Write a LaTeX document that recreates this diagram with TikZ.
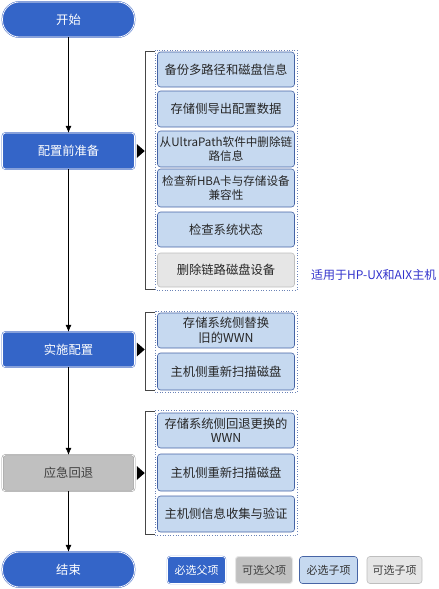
\documentclass[tikz,border=0pt]{standalone}
\usepackage{fontspec}
\setmainfont{Noto Sans CJK SC}
\usetikzlibrary{arrows.meta}
\definecolor{pblue}{RGB}{52,101,200}
\definecolor{pborder}{RGB}{70,110,200}
\definecolor{cfill}{RGB}{198,217,240}
\definecolor{cborder}{RGB}{70,100,165}
\definecolor{gpfill}{RGB}{192,192,192}
\definecolor{gpborder}{RGB}{150,150,150}
\definecolor{gcfill}{RGB}{230,230,230}
\definecolor{gcborder}{RGB}{190,190,190}
\definecolor{notec}{RGB}{51,51,204}
\definecolor{brk}{RGB}{70,70,70}
\begin{document}
\begin{tikzpicture}[x=1pt,y=-1pt,
  txt/.style={font=\fontsize{12.3}{14.5}\selectfont, align=center, inner sep=0pt},
  tight/.style={font=\fontsize{11.6}{14.5}\selectfont},
  parent/.style={txt, rectangle, rounded corners=3pt, fill=pblue, draw=pborder, double=white, double distance=0.7pt, line width=0.5pt, text=white, minimum width=132pt, minimum height=35pt},
  gparent/.style={parent, fill=gpfill, draw=gpborder, text=black!75},
  term/.style={parent, rounded corners=17pt},
  child/.style={txt, rectangle, rounded corners=3pt, fill=cfill, draw=cborder, line width=0.6pt, text=black!85, minimum width=137pt, minimum height=35pt},
  gchild/.style={child, fill=gcfill, draw=gcborder},
  group/.style={draw=cborder!80, dotted, line width=0.6pt},
  flow/.style={draw=black, line width=0.5pt, -{Latex[length=7pt,width=6pt]}},
  legend/.style={font=\fontsize{11}{13}\selectfont, inner sep=0pt, minimum height=27pt, rounded corners=3pt}
]
\useasboundingbox (0,0) rectangle (439,589);

% parents
\node[term] (start) at (68.5,19.5) {开始};
\node[parent, minimum height=36pt] (p1) at (68.5,151) {配置前准备};
\node[parent] (p2) at (68.5,349.5) {实施配置};
\node[gparent, minimum height=36pt] (p3) at (68.5,473) {应急回退};
\node[term] (end) at (68.5,569.5) {结束};

\draw[flow] (start) -- (p1);
\draw[flow] (p1) -- (p2);
\draw[flow] (p2) -- (p3);
\draw[flow] (p3) -- (end);

% triangles
\foreach \p in {p1,p2,p3}{
  \fill[black] ([xshift=2pt,yshift=-7pt]\p.east) -- ([xshift=2pt,yshift=7pt]\p.east) -- ([xshift=10pt]\p.east) -- cycle;
}

% group 1
\draw[group] (155,50) rectangle (297,290);
\draw[brk, line width=0.8pt] (155,51) -- (145,51) -- (145,289) -- (155,289);
\node[child] (c11) at (226,69.5) {备份多路径和磁盘信息};
\node[child, minimum height=36pt] (c12) at (226,109) {存储侧导出配置数据};
\node[child, tight, minimum height=36pt] (c13) at (226,149) {从UltraPath软件中删除链\\路信息};
\node[child, tight, minimum height=38pt] (c14) at (226,188) {检查新HBA卡与存储设备\\兼容性};
\node[child] (c15) at (226,229.5) {检查系统状态};
\node[gchild, minimum height=34pt] (c16) at (226,270) {删除链路磁盘设备};
\node[font=\fontsize{12}{13}\selectfont, text=notec, anchor=west, inner sep=0pt] (note) at (311,275) {适用于HP-UX和AIX主机};

% group 2
\draw[group] (155,311) rectangle (297,392);
\draw[brk, line width=0.8pt] (155,312) -- (145,312) -- (145,390) -- (155,390);
\node[child] (c21) at (226,330.5) {存储系统侧替换\\旧的WWN};
\node[child, minimum height=37pt] (c22) at (226,371.5) {主机侧重新扫描磁盘};

% group 3
\draw[group] (155,410) rectangle (297,535);
\draw[brk, line width=0.8pt] (155,411) -- (145,411) -- (145,534) -- (155,534);
\node[child] (c31) at (226,430.5) {存储系统侧回退更换的\\WWN};
\node[child, minimum height=37pt] (c32) at (226,472.5) {主机侧重新扫描磁盘};
\node[child, minimum height=36pt] (c33) at (226,514) {主机侧信息收集与验证};

% legend
\node[legend, fill=pblue, draw=pborder, double=white, double distance=0.6pt, text=white, minimum width=58pt] (l1) at (196.5,570) {必选父项};
\node[legend, fill=gpfill, draw=gcfill, line width=1pt, text=black!75, minimum width=57pt] (l2) at (264,570) {可选父项};
\node[legend, fill=cfill, draw=cborder, line width=0.6pt, text=black!80, minimum width=58pt] (l3) at (328.5,570) {必选子项};
\node[legend, fill=gcfill, draw=gcborder, line width=0.6pt, text=black!75, minimum width=55pt] (l4) at (394.5,570) {可选子项};
\end{tikzpicture}
\end{document}
